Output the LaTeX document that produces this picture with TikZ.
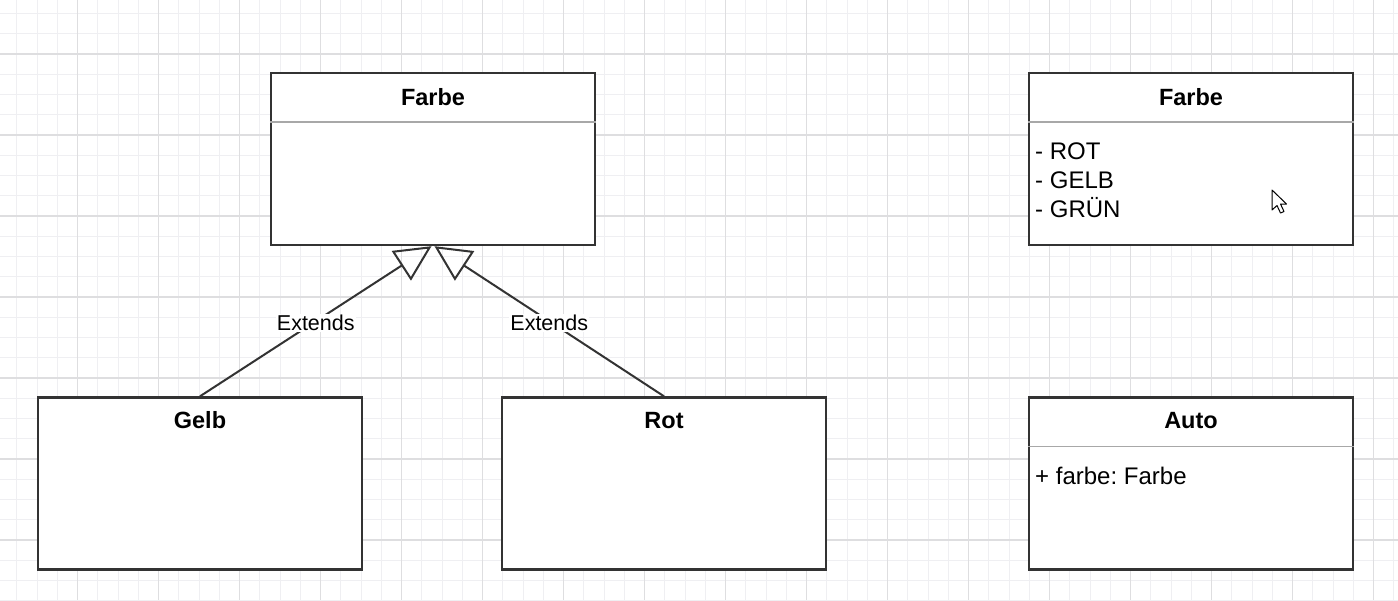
\documentclass[tikz,border=0pt]{standalone}
\usepackage{fontspec}
\setmainfont{Liberation Sans}
\usetikzlibrary{arrows.meta}
\frenchspacing
\definecolor{minorc}{HTML}{EFEFF2}
\definecolor{majorc}{HTML}{DEDEE0}
\definecolor{boxc}{HTML}{333333}
\definecolor{divc}{HTML}{A8A8A8}
\tikzset{
  minorgrid/.style={draw=minorc, line width=1pt},
  majorgrid/.style={draw=majorc, line width=1.2pt},
  umlbox/.style={draw=boxc, line width=2.4pt, fill=white, rectangle, inner sep=0pt,
    minimum width=324pt, minimum height=172pt},
  titletext/.style={font=\bfseries\fontsize{23.5}{28}\selectfont, inner sep=0pt, anchor=base},
  bodytext/.style={font=\fontsize{24}{29}\selectfont, inner sep=0pt, align=left},
  divider/.style={draw=divc, line width=1.6pt},
  extends/.style={draw=boxc, line width=2pt,
    -{Triangle[open, length=36pt, width=35pt, line width=2pt]}},
  extlabel/.style={fill=white, font=\fontsize{21.5}{26}\selectfont, inner sep=1pt},
  cursor/.style={draw=black, fill=white, line width=1pt, line join=round}
}
\begin{document}
\begin{tikzpicture}[x=1pt, y=-1pt]
\useasboundingbox (0,0) rectangle (1398,600);
\fill[white] (0,0) rectangle (1398,600);
% grid
\foreach \i in {-4,...,66} \draw[minorgrid] ({77.7+20.25*\i},0) -- ({77.7+20.25*\i},600);
\foreach \i in {-3,...,28} \draw[minorgrid] (0,{54+20.25*\i}) -- (1398,{54+20.25*\i});
\foreach \i in {-1,...,16} \draw[majorgrid] ({77.7+81*\i},0) -- ({77.7+81*\i},600);
\foreach \i in {-1,...,7} \draw[majorgrid] (0,{54+81*\i}) -- (1398,{54+81*\i});

% boxes
\node[umlbox] (farbe) at (433,159) {};
\node[umlbox] (gelb) at (200,483.5) {};
\node[umlbox] (rot) at (664,483.5) {};
\node[umlbox] (farbe2) at (1191,159) {};
\node[umlbox] (auto) at (1191,483.5) {};

% dividers
\draw[divider] ([yshift=-50pt]farbe.north west) -- ([yshift=-50pt]farbe.north east);
\draw[divider] ([yshift=-50pt]farbe2.north west) -- ([yshift=-50pt]farbe2.north east);
\draw[divider] ([yshift=-50pt]auto.north west) -- ([yshift=-50pt]auto.north east);

% titles
\node[titletext] (farbeT) at (433,105) {Farbe};
\node[titletext] (gelbT) at (200,428) {Gelb};
\node[titletext] (rotT) at (664,428) {Rot};
\node[titletext] (farbe2T) at (1191,105) {Farbe};
\node[titletext] (autoT) at (1191,428) {Auto};

% attributes
\node[bodytext, anchor=north west] (farbe2A) at (1035,143) {- ROT\\- GELB\\- GRÜN};
\node[bodytext, anchor=base west] (autoA) at (1035,484) {+ farbe: Farbe};

% generalisations
\draw[extends] (gelb.north) -- node[extlabel, pos=0.5, yshift=-1.5pt] (ext1) {Extends} ([xshift=-1.5pt]farbe.south);
\draw[extends] (rot.north) -- node[extlabel, pos=0.5, yshift=-2pt] (ext2) {Extends} ([xshift=1.5pt]farbe.south);

% mouse pointer
\draw[cursor] (1272,190) -- (1272,210) -- (1277,205.5) -- (1280.5,213) -- (1284,211.5) -- (1280.5,204) -- (1286.5,204) -- cycle;
\end{tikzpicture}
\end{document}
